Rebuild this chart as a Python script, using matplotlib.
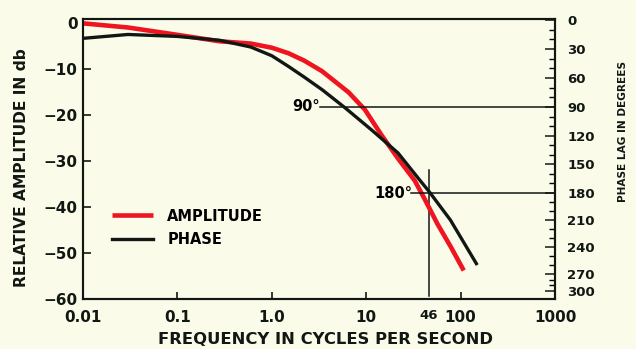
import matplotlib.pyplot as plt
from matplotlib.ticker import NullLocator
import numpy as np

plt.rcParams['font.family'] = 'DejaVu Sans'
plt.rcParams['font.weight'] = 'bold'

# amplitude response, db vs cycles per second
amp_freq = [0.01, 0.03, 0.1, 0.28, 0.6, 1.0, 1.5, 2.2, 3.4, 6.5, 9.7, 14.5,
            21.7, 32.6, 41.5, 57, 79, 108]
amp_db = [0.0, -0.9, -2.5, -3.9, -4.4, -5.3, -6.5, -8.1, -10.4, -15.0, -18.8,
          -24.3, -29.4, -34.2, -38.2, -43.7, -48.7, -53.8]

# phase lag, degrees vs cycles per second
phase_freq = [0.01, 0.03, 0.1, 0.28, 0.6, 1.0, 1.5, 2.2, 3.4, 6.0, 11.4,
              21.7, 38, 46, 78, 150]
phase_deg = [19, 15, 17, 21, 28, 37, 48, 59, 72, 91, 114, 138, 168, 178,
             210, 260]

freq_ticks = [0.01, 0.1, 1.0, 10, 100, 1000]
freq_labels = ['0.01', '0.1', '1.0', '10', '100', '1000']
db_ticks = [0, -10, -20, -30, -40, -50, -60]
deg_ticks = list(range(0, 301, 30))

# the phase scale is hand drawn: even up to 270, squeezed from 270 to 300
DEG_KNOTS = [0, 90, 180, 270, 300]
POS_KNOTS = [0, 87, 173, 254, 271]


def piecewise(v, xs, ys):
    v = np.asarray(v, dtype=float)
    out = np.interp(v, xs, ys)
    lo_slope = (ys[1] - ys[0]) / (xs[1] - xs[0])
    hi_slope = (ys[-1] - ys[-2]) / (xs[-1] - xs[-2])
    out = np.where(v < xs[0], ys[0] + (v - xs[0]) * lo_slope, out)
    out = np.where(v > xs[-1], ys[-1] + (v - xs[-1]) * hi_slope, out)
    return out


def deg_fwd(d):
    return piecewise(d, DEG_KNOTS, POS_KNOTS)


def deg_inv(p):
    return piecewise(p, POS_KNOTS, DEG_KNOTS)


bg = '#fbfbea'
ink = '#111814'
red = '#ee1520'

fig = plt.figure(figsize=(6.36, 3.49), dpi=100, facecolor=bg)
ax = fig.add_axes([83 / 636, 50 / 349, 472 / 636, 280 / 349])
ax.set_facecolor(bg)
ax.set_xscale('log')
ax.set_xlim(0.01, 1000)
ax.set_ylim(-59.3, 0.95)

ax2 = ax.twinx()
ax2.set_yscale('function', functions=(deg_fwd, deg_inv))
ax2.set_ylim(314, -1)

# curves
ax.plot(amp_freq, amp_db, color=red, lw=3.3, solid_capstyle='butt',
        solid_joinstyle='round', zorder=3, label='AMPLITUDE')
ax2.plot(phase_freq, phase_deg, color=ink, lw=2.4, solid_capstyle='butt',
         solid_joinstyle='round', zorder=4)

# reference lines at 90 and 180 degrees, and 46 cps
ax2.plot([3.25, 1000], [90, 90], color=ink, lw=1.1, zorder=2)
ax2.plot([30, 1000], [180, 180], color=ink, lw=1.1, zorder=2)
ax.plot([46, 46], [-59.3, -32], color=ink, lw=1.1, zorder=2)
ax2.text(3.2, 90, '90°', ha='right', va='center', fontsize=10.5)
ax2.text(31, 180, '180°', ha='right', va='center', fontsize=10.5)

# legend
ax.plot([], [], color=ink, lw=2.4, label='PHASE')
ax.legend(loc='center left', bbox_to_anchor=(0.061, 0.254), frameon=False,
          fontsize=10.5, handlelength=2.8, handletextpad=1.0,
          labelspacing=0.6, borderpad=0, borderaxespad=0)

# axes styling
for a in (ax, ax2):
    for s in a.spines.values():
        s.set_linewidth(1.5)
        s.set_color(ink)

ax.set_xticks(freq_ticks, freq_labels)
ax.xaxis.set_minor_locator(NullLocator())
ax.set_yticks(db_ticks, [f'{v}'.replace('-', '\u2212') for v in db_ticks])
ax.tick_params(axis='x', direction='in', length=5, width=1.2, labelsize=11,
               pad=8, colors=ink)
ax.tick_params(axis='y', direction='in', length=6, width=1.2, labelsize=11,
               pad=4, colors=ink)
ax.text(46, -0.035, '46', transform=ax.get_xaxis_transform(), ha='center',
        va='top', fontsize=9.5, color=ink)

ax2.set_yticks(deg_ticks, [str(v) for v in deg_ticks])
ax2.set_yticks(range(0, 301, 10), minor=True)
ax2.yaxis.set_minor_formatter(plt.NullFormatter())
ax2.tick_params(axis='y', which='major', direction='in', length=7, width=1.1,
                labelsize=9.5, pad=9, colors=ink)
ax2.tick_params(axis='y', which='minor', direction='in', length=4, width=1.0)

fig.text(326 / 636, 1 - 340 / 349, 'FREQUENCY IN CYCLES PER SECOND',
         ha='center', va='center', fontsize=11.8, color=ink)
fig.text(22 / 636, 1 - 168 / 349, 'RELATIVE AMPLITUDE IN db', rotation=90,
         ha='center', va='center', fontsize=11.2, color=ink)
fig.text(623 / 636, 1 - 131 / 349, 'PHASE LAG IN DEGREES', rotation=90,
         ha='center', va='center', fontsize=7.6, color=ink)

fig.savefig('out.png', dpi=100, facecolor=bg)
